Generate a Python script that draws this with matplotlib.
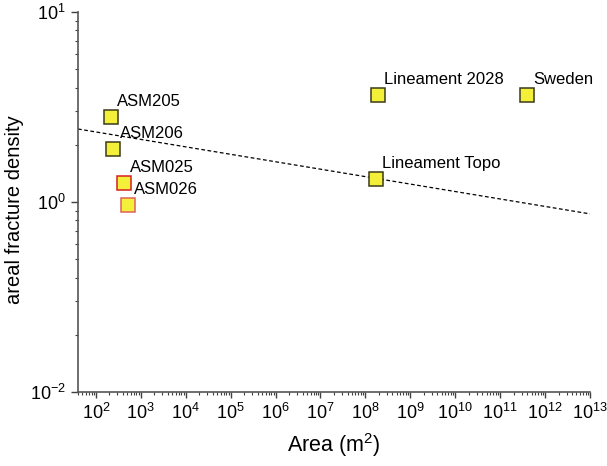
import numpy as np
import matplotlib
matplotlib.use("Agg")
import matplotlib.pyplot as plt
from matplotlib.ticker import LogLocator, NullFormatter, FixedLocator, FixedFormatter

plt.rcParams["font.family"] = ["Liberation Sans", "DejaVu Sans"]
plt.rcParams["mathtext.fontset"] = "custom"
plt.rcParams["mathtext.rm"] = "Liberation Sans"
plt.rcParams["mathtext.it"] = "Liberation Sans:italic"
plt.rcParams["mathtext.default"] = "regular"

# Sample areas (m^2) and their areal fracture densities
names = ["ASM205", "ASM206", "ASM025", "ASM026",
         "Lineament 2028", "Sweden", "Lineament Topo"]
areas = [217, 245, 417, 520, 1.9e8, 4.0e11, 1.74e8]
densities = [2.81, 1.91, 1.26, 0.964, 3.64, 3.64, 1.32]
edge_colors = ["#3a3a1a", "#3a3a1a", "#d42020", "#e06060",
               "#3a3a1a", "#3a3a1a", "#3a3a1a"]

# Power-law trend: density = coef * area ** exponent
fit_coef = 2.80
fit_exponent = -0.0392

x_limits = (40, 1e13)
y_limits = (0.1, 10)
y_tick_values = [0.1, 1, 10]
y_tick_labels = [r"$10^{-2}$", r"$10^{0}$", r"$10^{1}$"]
x_tick_exponents = list(range(2, 14))

fig = plt.figure(figsize=(6.07, 4.66), dpi=100)
ax = fig.add_axes([0.1285, 0.1588, 0.972 - 0.1285, 0.9742 - 0.1588])
ax.set_xscale("log")
ax.set_yscale("log")
ax.set_xlim(*x_limits)
ax.set_ylim(*y_limits)

xs = np.logspace(np.log10(x_limits[0]), np.log10(x_limits[1]), 200)
ax.plot(xs, fit_coef * xs ** fit_exponent, color="black", lw=0.9,
        dashes=(3, 2), zorder=2)

for name, a, d, ec in zip(names, areas, densities, edge_colors):
    ax.plot([a], [d], marker="s", ms=9.4, mfc="#f4f03a", mec=ec,
            mew=1.1, ls="none", zorder=3)
    ax.annotate(name, (a, d), xytext=(4.5, 8), textcoords="offset points",
                ha="left", va="baseline", fontsize=12, zorder=4)

# Axes styling
for side in ("top", "right"):
    ax.spines[side].set_visible(False)
for side in ("left", "bottom"):
    ax.spines[side].set_color("#555555")
    ax.spines[side].set_linewidth(1.2)

ax.xaxis.set_major_locator(FixedLocator([10.0 ** e for e in x_tick_exponents]))
ax.xaxis.set_major_formatter(FixedFormatter(
    [r"$10^{%d}$" % e for e in x_tick_exponents]))
ax.xaxis.set_minor_locator(LogLocator(base=10, subs=np.arange(2, 10), numticks=30))
ax.xaxis.set_minor_formatter(NullFormatter())

ax.yaxis.set_major_locator(FixedLocator(y_tick_values))
ax.yaxis.set_major_formatter(FixedFormatter(y_tick_labels))
ax.yaxis.set_minor_locator(LogLocator(base=10, subs=np.arange(2, 10), numticks=10))
ax.yaxis.set_minor_formatter(NullFormatter())

ax.tick_params(axis="x", which="major", length=4, width=1.0, color="#404040",
               labelsize=13, pad=4)
ax.tick_params(axis="x", which="minor", length=2.5, width=0.8, color="#404040")
ax.tick_params(axis="y", which="major", length=5, width=1.0, color="#404040",
               labelsize=13, pad=4)
ax.tick_params(axis="y", which="minor", length=2.5, width=0.8, color="#404040")

ax.set_xlabel(r"Area (m$^{2}$)", fontsize=15.5, labelpad=6)
ax.set_ylabel("areal fracture density", fontsize=14.5)
ax.yaxis.set_label_coords(-0.105, 0.48)

fig.savefig("out.png", dpi=100)
